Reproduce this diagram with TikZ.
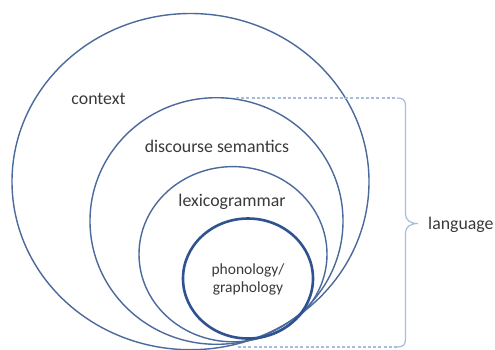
\documentclass[tikz,border=0pt]{standalone}
\usepackage{fontspec}
\setmainfont{Carlito}
\definecolor{circblue}{HTML}{4A6A9C}
\definecolor{phonoblue}{HTML}{2F5290}
\definecolor{bracecol}{HTML}{A6BDDC}
\definecolor{txtcol}{HTML}{3A3A3A}
\tikzset{
  ring/.style={draw=circblue, line width=1.4pt},
  innerring/.style={draw=phonoblue, line width=2.6pt},
  bracepath/.style={draw=bracecol, line width=1.2pt},
  guide/.style={draw=bracecol, line width=1.1pt, dash pattern=on 3pt off 2.2pt},
  lbl/.style={text=txtcol, inner sep=0pt, anchor=base, font=\fontsize{17.8}{20}\selectfont},
  smalllbl/.style={text=txtcol, inner sep=0pt, anchor=base, font=\fontsize{15.5}{18}\selectfont}
}
\begin{document}
\begin{tikzpicture}[x=1pt, y=-1pt]
\useasboundingbox (0,0) rectangle (495,349);
\fill[white] (0,0) rectangle (495,349);
% centres
\coordinate (cC) at (190.5,181.6);
\coordinate (cD) at (216.5,221.0);
\coordinate (cL) at (233,254.2);
\coordinate (cP) at (248,278.5);
% rings
\draw[ring] (cC) ellipse [x radius=178.5pt, y radius=168.1pt];
\draw[ring] (cD) ellipse [x radius=126.5pt, y radius=123.3pt];
\draw[ring] (cL) ellipse [x radius=94pt, y radius=87.6pt];
\draw[innerring] (cP) ellipse [x radius=65pt, y radius=60pt];
% labels
\node[lbl] (context) at (98.5,104) {context};
\node[lbl] (disc) at (217,152) {discourse semantics};
\node[lbl] (lexi) at (232,206) {lexicogrammar};
\node[smalllbl] (phon) at (248,274.5) {phonology/};
\node[smalllbl] (graph) at (248,292.5) {graphology};
% brace
\coordinate (tl) at (236,98);
\coordinate (tc) at (397,98);
\coordinate (tip) at (418,223.5);
\coordinate (bc) at (397,347);
\coordinate (bl) at (236,347);
\draw[guide] (tl) -- (tc);
\draw[guide] (bc) -- (bl);
\draw[bracepath] (tc) .. controls (403,98) and (405.5,100) .. (405.5,106)
  -- (405.5,214) .. controls (405.5,220) and (410,223.5) .. (tip)
  .. controls (410,223.5) and (405.5,227) .. (405.5,233)
  -- (405.5,339) .. controls (405.5,345) and (403,347) .. (bc);
\node[lbl, anchor=base west] (lang) at (428,229.5) {language};
\end{tikzpicture}
\end{document}
